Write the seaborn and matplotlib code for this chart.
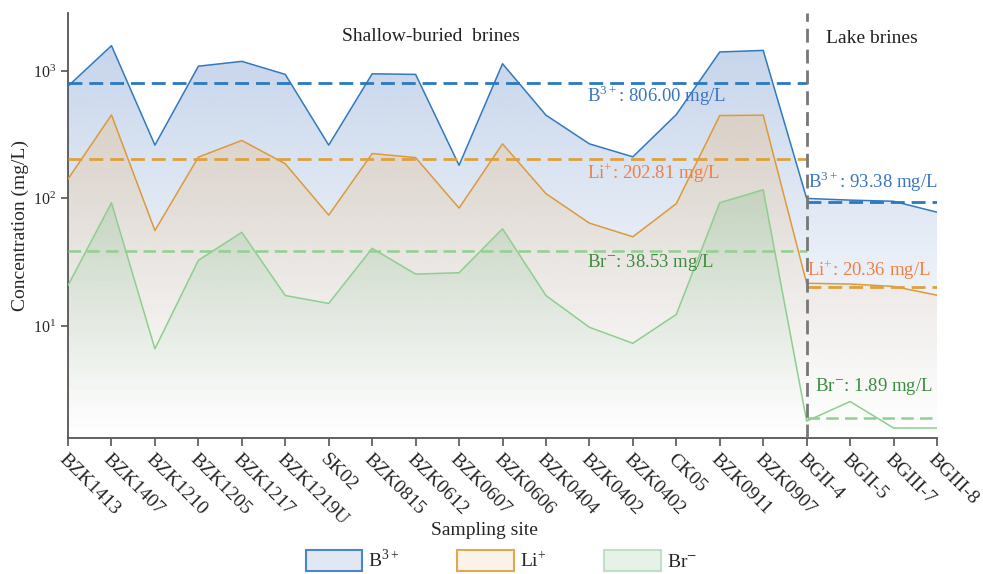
import numpy as np
import pandas as pd
import seaborn as sns
import matplotlib
matplotlib.use('Agg')
import matplotlib.pyplot as plt
import matplotlib.colors as mcolors
import matplotlib.transforms as mtransforms
from matplotlib.patches import Patch

# Sampling sites (17 shallow-buried brines + 4 lake brines)
sites = ["BZK1413", "BZK1407", "BZK1210", "BZK1205", "BZK1217", "BZK1219U", "SK02",
         "BZK0815", "BZK0612", "BZK0607", "BZK0606", "BZK0404", "BZK0402", "BZK0402",
         "CK05", "BZK0911", "BZK0907", "BGII-4", "BGII-5", "BGIII-7", "BGIII-8"]

# Concentrations (mg/L)
boron = [760, 1580, 262, 1090, 1190, 940, 262, 950, 940, 182, 1140, 450, 268, 212,
         455, 1410, 1450, 100, 97, 95, 78]
lithium = [142, 452, 56, 211, 285, 187, 74, 225, 209, 84, 268, 109, 64, 50,
           91, 447, 450, 21.6, 21.3, 20.4, 17.4]
bromine = [20.8, 92.5, 6.6, 32.7, 54.2, 17.3, 15.0, 40.6, 25.5, 26.1, 57.8, 17.3, 9.75, 7.3,
           12.3, 92.5, 117, 1.79, 2.55, 1.58, 1.58]

ions = ["B$^{\\mathdefault{3+}}$", "Li$^{\\mathdefault{+}}$", "Br$^{-}$"]
shallow_mean = [806.00, 202.81, 38.53]
lake_mean = [93.38, 20.36, 1.89]
n_shallow = 17

line_colors = ["#3279bd", "#dc9a3a", "#8dcf8d"]
dash_colors = ["#2a78c2", "#dfa040", "#90d090"]
fill_colors = ["#5a84c4", "#f2b060", "#5cb870"]
fill_alpha = [0.38, 0.38, 0.42]
text_colors = ["#3a74c2", "#f07f40", "#3d8b3d"]
edge_colors = ["#4a86c5", "#e0a850", "#bfe0c4"]
legend_fill = ["#e2e8f3", "#fcf3ea", "#e6f2e8"]

df = pd.DataFrame({
    'pos': list(range(len(sites))) * 3,
    'value': boron + lithium + bromine,
    'ion': [ions[0]] * len(sites) + [ions[1]] * len(sites) + [ions[2]] * len(sites),
})

sns.set_theme(style='ticks')
plt.rcParams['font.family'] = ['Liberation Serif', 'DejaVu Serif']
plt.rcParams['mathtext.fontset'] = 'stix'

ymin, ymax = 1.32, 2840

fig = plt.figure(figsize=(9.83, 5.74), dpi=100)
ax = fig.add_axes([0.0692, 0.237, 0.884, 0.740])
ax.set_yscale('log')
ax.set_xlim(0, len(sites) - 1)
ax.set_ylim(ymin, ymax)
ax.set_autoscale_on(False)


def gradient_fill(ax, x, y, color, alpha_top, z):
    poly = ax.fill_between(x, y, ymin, facecolor='none', edgecolor='none', zorder=z)
    grad = np.zeros((256, 1, 4))
    grad[:, 0, :3] = mcolors.to_rgb(color)
    grad[:, 0, 3] = alpha_top * np.linspace(1, 0, 256) ** 1.2
    im = ax.imshow(grad, aspect='auto', extent=[0, 1, 0, 1], transform=ax.transAxes,
                   origin='upper', zorder=z, interpolation='bilinear')
    im.set_clip_path(poly.get_paths()[0], transform=ax.transData)


x = np.arange(len(sites))
for i, vals in enumerate([boron, lithium, bromine]):
    gradient_fill(ax, x, vals, fill_colors[i], fill_alpha[i], 1 + i * 0.1)

sns.lineplot(data=df, x='pos', y='value', hue='ion', palette=line_colors,
             linewidth=1.1, legend=False, ax=ax, zorder=3)

# mean lines
last = len(sites) - 1
for i in range(3):
    lw = 2.0 if i < 2 else 1.8
    ax.plot([0, n_shallow], [shallow_mean[i]] * 2, color=dash_colors[i],
            lw=lw, ls=(0, (5, 2.5)), zorder=4)
    ax.plot([n_shallow, last], [lake_mean[i]] * 2, color=dash_colors[i],
            lw=lw, ls=(0, (5, 2.5)), zorder=4)

ax.axvline(n_shallow, color='#777777', lw=2, ls=(0, (5, 2.5)), zorder=5)

# annotations
trans = mtransforms.blended_transform_factory(ax.transData, ax.transAxes)
shallow_y = [0.805, 0.624, 0.414]
lake_y = [0.604, 0.395, 0.12]
lake_x = [17.03, 17.0, 17.2]
for i in range(3):
    ax.text(11.95, shallow_y[i], f"{ions[i]}: {shallow_mean[i]:.2f} mg/L", transform=trans,
            ha='left', va='center', fontsize=13.5, color=text_colors[i], zorder=6)
    ax.text(lake_x[i], lake_y[i], f"{ions[i]}: {lake_mean[i]:.2f} mg/L", transform=trans,
            ha='left', va='center', fontsize=13.5, color=text_colors[i], zorder=6)

ax.text(8.35, 0.946, "Shallow-buried  brines", transform=trans, ha='center', va='center',
        fontsize=14, color='#222222')
ax.text(18.5, 0.941, "Lake brines", transform=trans, ha='center', va='center',
        fontsize=14, color='#222222')

# axes styling
ax.set_xticks(x)
ax.set_xticklabels(sites, rotation=-45, ha='left', va='top', rotation_mode='anchor',
                   fontsize=14)
ax.tick_params(axis='x', length=6, width=1.2, color='#555555', pad=3)
ax.tick_params(axis='y', which='major', length=5, width=1.2, color='#555555', labelsize=11.5)
ax.yaxis.set_minor_locator(matplotlib.ticker.NullLocator())
ax.set_yticks([10, 100, 1000])
for side in ['top', 'right']:
    ax.spines[side].set_visible(False)
for side in ['left', 'bottom']:
    ax.spines[side].set_color('#555555')
    ax.spines[side].set_linewidth(1.3)

ax.set_xlabel("Sampling site", fontsize=14)
ax.xaxis.set_label_coords(0.479, -0.197)
ax.set_ylabel("Concentration (mg/L)", fontsize=14, labelpad=3)

handles = [Patch(facecolor=legend_fill[i], edgecolor=edge_colors[i], linewidth=1.5, label=ions[i])
           for i in range(3)]
fig.legend(handles=handles, loc='lower center', bbox_to_anchor=(0.51, -0.025), ncol=3,
           frameon=False, fontsize=14, handlelength=2.9, handleheight=1.3,
           handletextpad=0.3, columnspacing=3.0)

fig.savefig('out.png', dpi=100)
